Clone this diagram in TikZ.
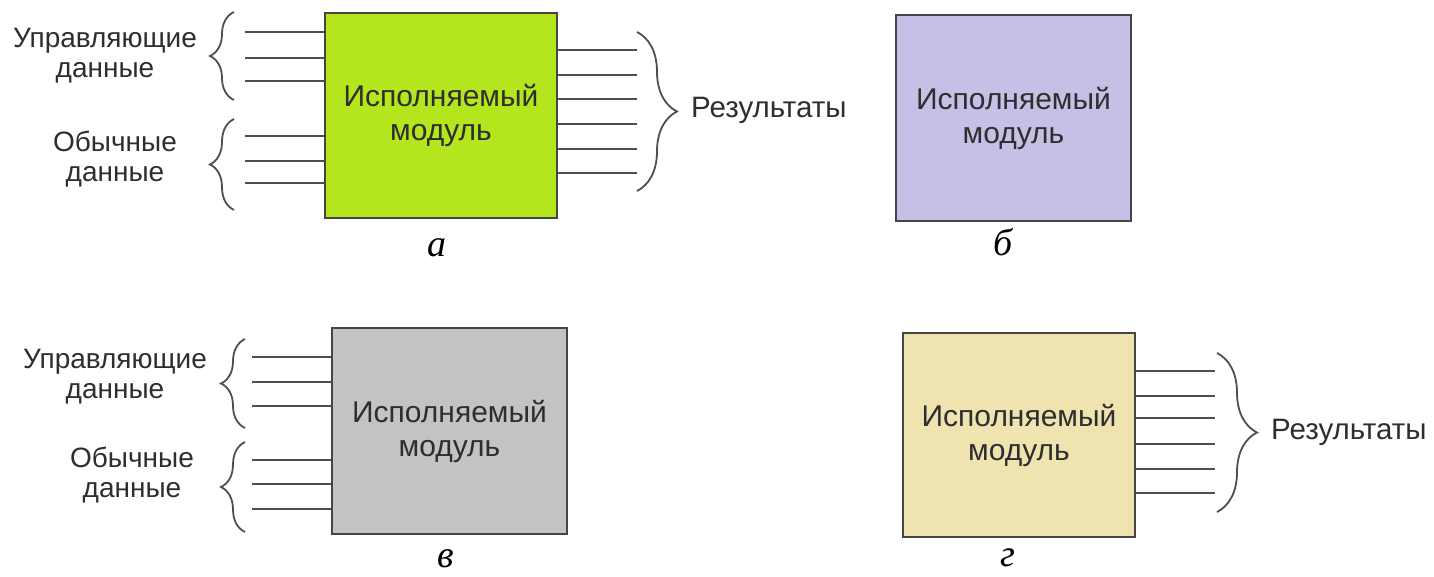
\documentclass[tikz,border=0pt]{standalone}
\usepackage{fontspec}
\setmainfont{Liberation Sans}
\newfontfamily\capfont{Liberation Serif}
\usetikzlibrary{decorations.pathreplacing}

\definecolor{modlime}{HTML}{B5E61D}
\definecolor{modlav}{HTML}{C8BFE7}
\definecolor{modgray}{HTML}{C3C3C3}
\definecolor{modsand}{HTML}{EFE4B0}
\definecolor{edgec}{HTML}{454545}
\definecolor{wirec}{HTML}{4F4F4F}
\definecolor{textc}{HTML}{2E2E2E}

\begin{document}
\begin{tikzpicture}[x=1pt,y=-1pt,
    module/.style={draw=edgec,line width=1.5pt,minimum width=232pt,minimum height=205pt,
        align=center,inner sep=0pt,text=textc,font=\fontsize{30}{34}\selectfont},
    wire/.style={draw=wirec,line width=2pt},
    curly/.style={draw=wirec,line width=1.8pt,decorate,decoration={brace,amplitude=#1}},
    curly/.default=24,
    tag/.style={align=center,text=textc,font=\fontsize{28}{30}\selectfont,inner sep=0pt},
    caption/.style={font=\capfont\itshape\fontsize{38}{38}\selectfont,inner sep=0pt,anchor=base}]
    \useasboundingbox (0,0) rectangle (1434,577);

    % the four modules
    \node[module,fill=modlime] (moda) at (441,115.5) {Исполняемый\\модуль};
    \node[module,fill=modlav,minimum width=235pt,minimum height=206pt] (modb) at (1013.5,118) {Исполняемый\\модуль};
    \node[module,fill=modgray,minimum width=235pt,minimum height=206pt] (modv) at (449.5,431) {Исполняемый\\модуль};
    \node[module,fill=modsand,minimum height=204pt] (modg) at (1019,435) {Исполняемый\\модуль};

    % inputs of module a
    \foreach \y [count=\i] in {32,58,81,136,161,183} {
        \coordinate (ain\i) at (245,\y);
        \draw[wire] (ain\i) -- (ain\i -| moda.west);
    }
    % outputs of module a
    \foreach \y [count=\i] in {50,75,99,124,149,173} {
        \coordinate (aout\i) at (637,\y);
        \draw[wire] (aout\i -| moda.east) -- (aout\i);
    }

    % inputs of module v
    \foreach \y [count=\i] in {357,382,406,460,484,509} {
        \coordinate (vin\i) at (252,\y);
        \draw[wire] (vin\i) -- (vin\i -| modv.west);
    }
    % outputs of module g
    \foreach \y [count=\i] in {371,396,418,444,469,493} {
        \coordinate (gout\i) at (1215,\y);
        \draw[wire] (gout\i -| modg.east) -- (gout\i);
    }

    % braces
    \coordinate (abr1s) at (234,100);  \coordinate (abr1e) at (234,12);
    \coordinate (abr2s) at (234,210);  \coordinate (abr2e) at (234,119);
    \coordinate (abr3s) at (637,32);   \coordinate (abr3e) at (637,191);
    \coordinate (vbr1s) at (245,428);  \coordinate (vbr1e) at (245,339);
    \coordinate (vbr2s) at (245,532);  \coordinate (vbr2e) at (245,442);
    \coordinate (gbr3s) at (1217,353); \coordinate (gbr3e) at (1217,512);
    \draw[curly] (abr1s) -- (abr1e);
    \draw[curly] (abr2s) -- (abr2e);
    \draw[curly=40] (abr3s) -- (abr3e);
    \draw[curly] (vbr1s) -- (vbr1e);
    \draw[curly] (vbr2s) -- (vbr2e);
    \draw[curly=40] (gbr3s) -- (gbr3e);

    % labels of the data groups
    \node[tag] (actl) at (105,56) {Управляющие\\данные};
    \node[tag] (adat) at (115,159) {Обычные\\данные};
    \node[tag,anchor=west,font=\fontsize{29.5}{30}\selectfont] (ares) at (691,110) {Результаты};
    \node[tag] (vctl) at (115,377) {Управляющие\\данные};
    \node[tag] (vdat) at (132,475) {Обычные\\данные};
    \node[tag,anchor=west,font=\fontsize{29.5}{30}\selectfont] (gres) at (1271,432) {Результаты};

    % captions
    \node[caption] (capa) at (437,257) {а};
    \node[caption] (capb) at (1003,256) {б};
    \node[caption] (capv) at (446,567) {в};
    \node[caption] (capg) at (1008,566) {г};
\end{tikzpicture}
\end{document}
